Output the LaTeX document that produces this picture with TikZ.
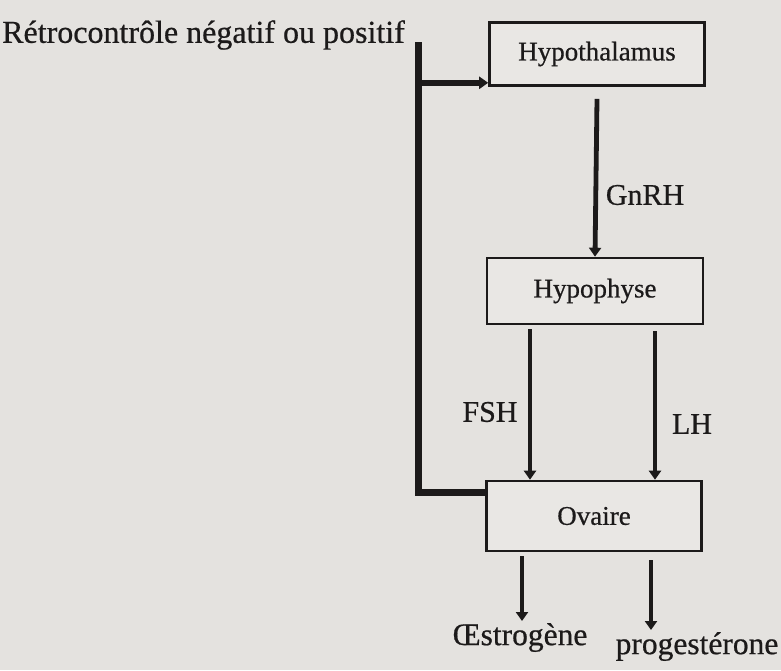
\documentclass[tikz,border=0pt]{standalone}
\usepackage{fontspec}
\setmainfont{Liberation Serif}[FakeBold=0.6]
\usetikzlibrary{arrows.meta}
\definecolor{paper}{RGB}{228,226,223}
\definecolor{boxfill}{RGB}{233,231,228}
\definecolor{ink}{RGB}{28,26,26}
\begin{document}
\begin{tikzpicture}[x=1pt,y=-1pt,
  organ/.style={draw=ink, line width=2.6pt, fill=boxfill, text=ink,
    font=\fontsize{27}{30}\selectfont, inner sep=0pt},
  lbl/.style={text=ink, font=\fontsize{30}{34}\selectfont, inner sep=2pt},
  product/.style={lbl, anchor=north, font=\fontsize{31.5}{35}\selectfont},
  hormone/.style={draw=ink, line width=4.8pt,
    -{Triangle[length=9pt,width=12pt]}},
  feedback/.style={draw=ink, line width=7pt},
  fbarrow/.style={draw=ink, line width=5.5pt,
    -{Triangle[length=9pt,width=12pt]}}]
  \useasboundingbox (0,0) rectangle (781,670);
  \fill[paper] (0,0) rectangle (781,670);

  % glands
  \node[organ, minimum width=215pt, minimum height=63pt] (hypothalamus) at (597,54) {Hypothalamus};
  \node[organ, minimum width=216pt, minimum height=66pt] (hypophyse) at (595,291) {Hypophyse};
  \node[organ, minimum width=215pt, minimum height=70pt] (ovaire) at (594,516) {Ovaire};

  % hypothalamus -> hypophyse
  \draw[hormone] ([yshift=-12pt]hypothalamus.south) -- (hypophyse.north);
  \node[lbl] (gnrh) at (645,195) {GnRH};

  % hypophyse -> ovaire
  \coordinate (fshtop) at ([xshift=-65pt,yshift=-4pt]hypophyse.south);
  \coordinate (lhtop) at ([xshift=60pt,yshift=-6pt]hypophyse.south);
  \draw[hormone] (fshtop) -- (fshtop |- ovaire.north);
  \draw[hormone] (lhtop) -- (lhtop |- ovaire.north);
  \node[lbl] (fsh) at (490,412) {FSH};
  \node[lbl] (lh) at (692,424) {LH};

  % ovarian hormones
  \node[product] (oestro) at (520,621) {Œstrogène};
  \node[product] (progest) at (697,630) {progestérone};
  \coordinate (oestrotop) at (522,556);
  \coordinate (progesttop) at (651,560);
  \draw[hormone] (oestrotop) -- (oestro.north -| oestrotop);
  \draw[hormone] (progesttop) -- (progest.north -| progesttop);

  % feedback loop
  \coordinate (fbtop) at (418,42);
  \coordinate (fbin) at ([yshift=-13pt]ovaire.north west);
  \coordinate (fbout) at ([yshift=4pt]hypothalamus.south west);
  \draw[feedback] (fbtop) |- (fbin);
  \draw[fbarrow] (fbtop |- fbout) -- (fbout);
  \node[lbl, anchor=west, font=\fontsize{32}{35}\selectfont] (retro) at (0,35) {Rétrocontrôle négatif ou positif};
\end{tikzpicture}
\end{document}
